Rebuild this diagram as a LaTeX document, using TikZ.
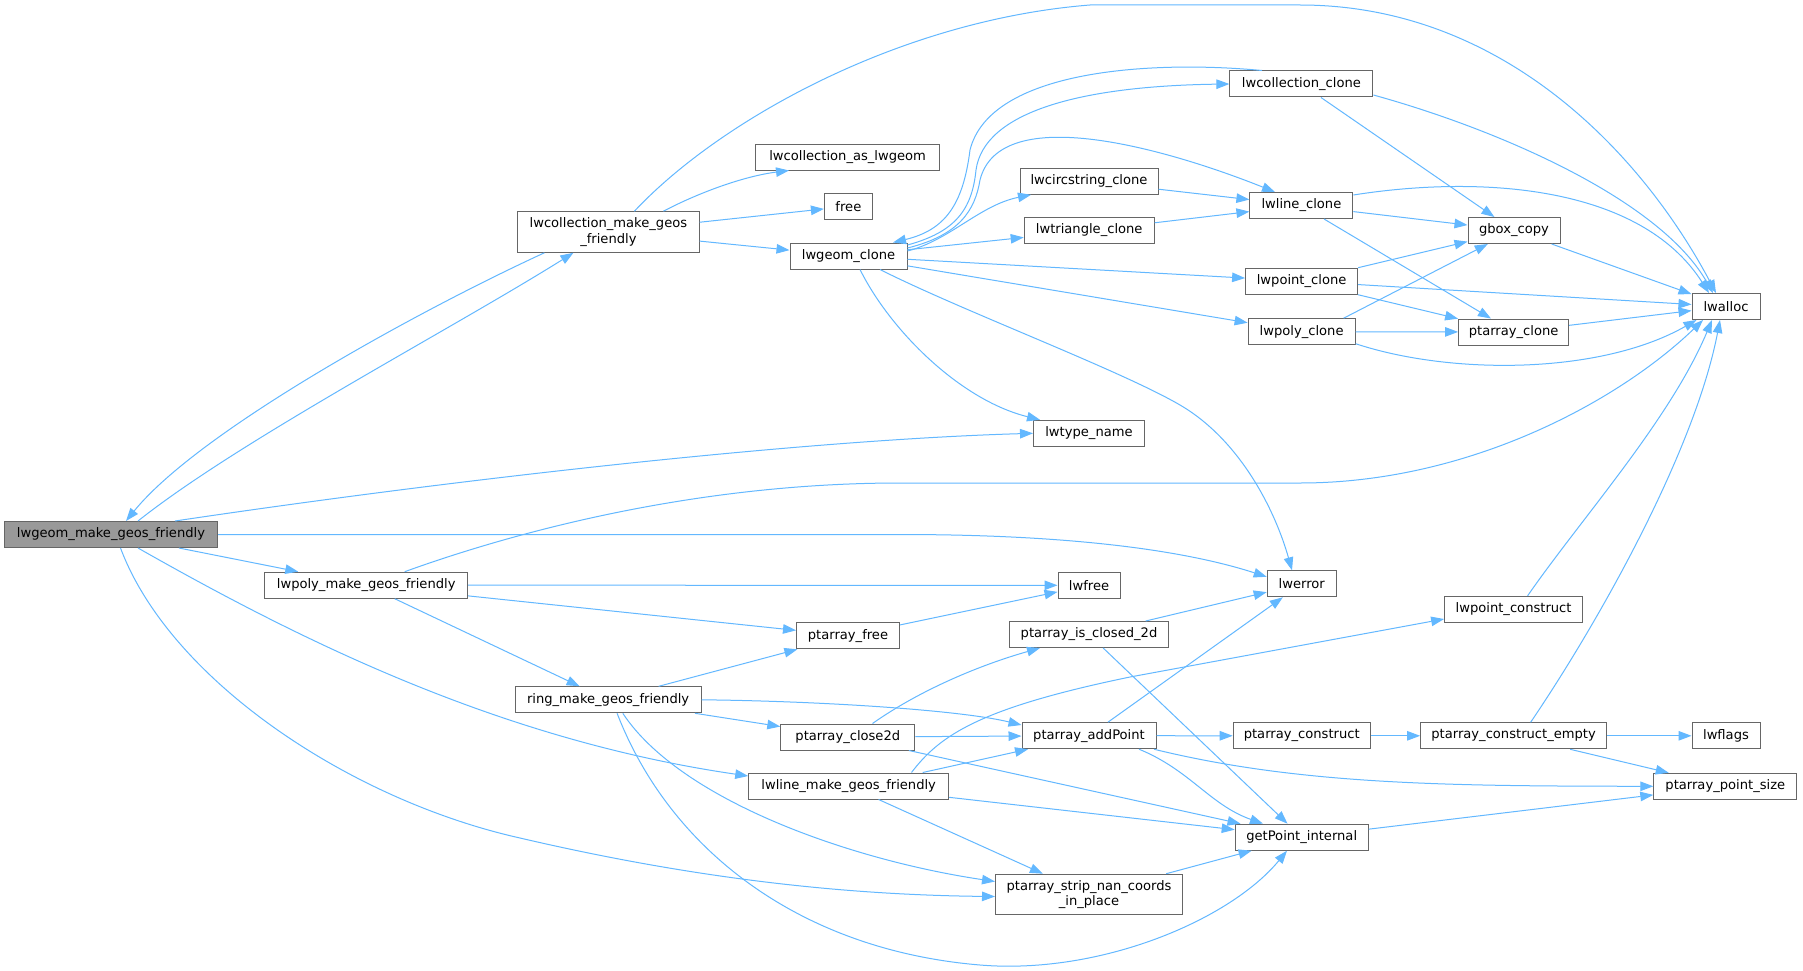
\documentclass[tikz,border=0pt]{standalone}
\usepackage{fontspec}
\setmainfont{DejaVu Sans}
\usetikzlibrary{arrows.meta,calc}
\definecolor{edgeblue}{HTML}{63B8FF}
\definecolor{boxgray}{HTML}{666666}
\definecolor{mainfill}{HTML}{999999}
\begin{document}
\begin{tikzpicture}[x=1pt,y=-1pt,
 box/.style={draw=boxgray, fill=white, line width=1pt, minimum height=26pt, inner sep=0pt, font=\fontsize{13.1}{15.2}\selectfont},
 twoline/.style={box, align=center, minimum height=40.6pt},
 link/.style={draw=edgeblue, line width=1pt, -{Triangle[length=13pt,width=9.5pt]}}]
\fill[white] (0,0) rectangle (1803,971);
\useasboundingbox (0,0) rectangle (1803,971);
% nodes
\node[box, fill=mainfill, minimum width=213pt] (A) at (111,534.5) {lwgeom\_make\_geos\_friendly};
\node[twoline, minimum width=181.4pt] (B) at (608.4,232) {lwcollection\_make\_geos\\\_friendly};
\node[box, minimum width=184pt] (LCAL) at (847.6,157) {lwcollection\_as\_lwgeom};
\node[box, minimum width=48pt] (FREE) at (848.4,206.3) {free};
\node[box, minimum width=117pt] (C) at (848.5,256) {lwgeom\_clone};
\node[box, minimum width=143pt] (LCC) at (1301.4,84) {lwcollection\_clone};
\node[box, minimum width=138pt] (LCS) at (1089,181.3) {lwcircstring\_clone};
\node[box, minimum width=130pt] (LTC) at (1089.2,230.5) {lwtriangle\_clone};
\node[box, minimum width=103pt] (LLC) at (1301.4,205.5) {lwline\_clone};
\node[box, minimum width=92pt] (GBOX) at (1514,230.5) {gbox\_copy};
\node[box, minimum width=112pt] (LPC) at (1301.6,281.2) {lwpoint\_clone};
\node[box, minimum width=68pt] (LWALLOC) at (1726,306.5) {lwalloc};
\node[box, minimum width=107pt] (LPOLYC) at (1301.6,331.7) {lwpoly\_clone};
\node[box, minimum width=110pt] (PCL) at (1513.6,332) {ptarray\_clone};
\node[box, minimum width=111pt] (LTN) at (1089,433.3) {lwtype\_name};
\node[box, minimum width=203pt] (D) at (366.2,585.2) {lwpoly\_make\_geos\_friendly};
\node[box, minimum width=62pt] (LWFREE) at (1089,585.3) {lwfree};
\node[box, minimum width=69pt] (LWERR) at (1301.7,583.8) {lwerror};
\node[box, minimum width=138pt] (LPCON) at (1513.6,609.3) {lwpoint\_construct};
\node[box, minimum width=103pt] (PFREE) at (848,635.8) {ptarray\_free};
\node[box, minimum width=159pt] (PICL) at (1089,634.5) {ptarray\_is\_closed\_2d};
\node[box, minimum width=186pt] (E) at (608.1,699.8) {ring\_make\_geos\_friendly};
\node[box, minimum width=134pt] (PC2) at (847.8,737) {ptarray\_close2d};
\node[box, minimum width=134pt] (PAP) at (1089,735.7) {ptarray\_addPoint};
\node[box, minimum width=137pt] (PCON) at (1301.7,735.8) {ptarray\_construct};
\node[box, minimum width=186pt] (PCE) at (1513.6,735.8) {ptarray\_construct\_empty};
\node[box, minimum width=68pt] (LWFLAGS) at (1726,735.8) {lwflags};
\node[box, minimum width=200pt] (F) at (848.7,786) {lwline\_make\_geos\_friendly};
\node[box, minimum width=143pt] (PPS) at (1725.3,786.3) {ptarray\_point\_size};
\node[box, minimum width=133pt] (GPI) at (1301.7,837.2) {getPoint\_internal};
\node[twoline, minimum width=187pt] (PSN) at (1089,894.5) {ptarray\_strip\_nan\_coords\\\_in\_place};
% straight edges
\draw[link] (B) -- (FREE);
\draw[link] (B) -- (C);
\draw[link] (C) -- (LTC);
\draw[link] (C) -- (LPC);
\draw[link] (C) -- (LPOLYC);
\draw[link] (LCC) -- (GBOX);
\draw[link] (LCS) -- (LLC);
\draw[link] (LTC) -- (LLC);
\draw[link] (LLC) -- (GBOX);
\draw[link] (LLC) -- (PCL);
\draw[link] (LPC) -- (GBOX);
\draw[link] (LPC) -- (LWALLOC);
\draw[link] (LPC) -- (PCL);
\draw[link] ($(LPOLYC.north)+(42,0)$) -- (GBOX);
\draw[link] (LPOLYC) -- (PCL);
\draw[link] (GBOX) -- (LWALLOC);
\draw[link] (PCL) -- (LWALLOC);
\draw[link] (A) -- (D);
\draw[link] (D) -- (LWFREE);
\draw[link] (D) -- (PFREE);
\draw[link] (D) -- (E);
\draw[link] (E) -- (PFREE);
\draw[link] (E) -- (PC2);
\draw[link] (PFREE) -- (LWFREE);
\draw[link] (PC2) -- (PAP);
\draw[link] (PC2) -- (GPI);
\draw[link] (PICL) -- (LWERR);
\draw[link] (PICL) -- (GPI);
\draw[link] (PAP) -- (LWERR);
\draw[link] (PAP) -- (PCON);
\draw[link] (PCON) -- (PCE);
\draw[link] (PCE) -- (LWFLAGS);
\draw[link] (PCE) -- (PPS);
\draw[link] ($(F.north)+(74,0)$) -- (PAP);
\draw[link] (F) -- (GPI);
\draw[link] (F) -- (PSN);
\draw[link] (PSN) -- (GPI);
\draw[link] (GPI) -- (PPS);
% curved edges
\draw[link] ($(B.south)+(-64,0)$) .. controls (420,310) and (200,430) .. ($(A.north)+(15,0)$);
\draw[link] ($(A.north)+(27,0)$) .. controls (240,440) and (450,330) .. ($(B.south)+(-35,0)$);
\draw[link] ($(B.north)+(26,0)$) .. controls (720,120) and (900,20) .. (1090,5) -- (1300,5) .. controls (1500,5) and (1640,150) .. ($(LWALLOC.north)+(-10,0)$);
\draw[link] ($(B.north)+(55,0)$) .. controls (700,192) and (745,176) .. ($(LCAL.south)+(-58.6,0)$);
\draw[link] ($(C.east)+(0,-11)$) .. controls (955,232) and (972,210) .. (976,170) .. controls (984,112) and (1080,86) .. (LCC.west);
\draw[link] ($(LCC.north)+(-39.4,0)$) .. controls (1150,60) and (990,70) .. (970,150) .. controls (963,205) and (945,230) .. ($(C.north)+(44.5,0)$);
\draw[link] ($(C.east)+(0,-8)$) .. controls (960,235) and (975,210) .. (980,180) .. controls (1000,100) and (1170,150) .. ($(LLC.north)+(-26.4,0)$);
\draw[link] ($(C.east)+(0,-5)$) .. controls (950,240) and (980,205) .. ($(LCS.south)+(-58,0)$);
\draw[link] ($(C.south)+(11.5,0)$) .. controls (890,330) and (960,400) .. ($(LTN.north)+(-49,0)$);
\draw[link] ($(C.south)+(31.5,0)$) .. controls (960,310) and (1120,370) .. (1180,405) .. controls (1240,440) and (1275,510) .. ($(LWERR.north)+(-9.7,0)$);
\draw[link] ($(LCC.east)+(0,11)$) .. controls (1500,130) and (1660,200) .. ($(LWALLOC.north)+(-13,0)$);
\draw[link] ($(LLC.east)+(0,-10.5)$) .. controls (1480,175) and (1640,185) .. ($(LWALLOC.north)+(-17,0)$);
\draw[link] ($(LPOLYC.east)+(0,12)$) .. controls (1450,375) and (1600,375) .. ($(LWALLOC.south west)+(5,0)$);
\draw[link] ($(D.north)+(38.5,0)$) .. controls (520,530) and (700,483) .. (900,483) -- (1300,483) .. controls (1470,483) and (1620,400) .. ($(LWALLOC.south)+(-23,0)$);
\draw[link] ($(LPCON.north)+(14,0)$) .. controls (1580,520) and (1670,420) .. ($(LWALLOC.south)+(-14,0)$);
\draw[link] ($(PCE.north)+(17,0)$) .. controls (1600,620) and (1695,450) .. ($(LWALLOC.south)+(-6,0)$);
\draw[link] (A.east) -- (900,534.5) .. controls (1080,534.5) and (1190,552) .. ($(LWERR.west)+(0,-7)$);
\draw[link] ($(A.north)+(64,0)$) .. controls (450,480) and (800,440) .. (LTN.west);
\draw[link] ($(A.south)+(27,0)$) .. controls (300,640) and (500,740) .. ($(F.west)+(0,-10)$);
\draw[link] ($(A.south)+(9.5,0)$) .. controls (170,680) and (350,800) .. (520,838) .. controls (700,880) and (850,895) .. ($(PSN.west)+(0,2)$);
\draw[link] (E.east) .. controls (820,701) and (960,710) .. ($(PAP.west)+(0,-10.7)$);
\draw[link] ($(E.south)+(14.7,0)$) .. controls (680,800) and (850,860) .. ($(PSN.west)+(0,-13)$);
\draw[link] ($(E.south)+(9,0)$) .. controls (670,850) and (800,950) .. (980,965) .. controls (1100,975) and (1230,920) .. ($(GPI.south)+(-14.7,0)$);
\draw[link] ($(PC2.north)+(24.7,0)$) .. controls (920,690) and (980,665) .. ($(PICL.south)+(-49,0)$);
\draw[link] ($(PAP.south)+(50,0)$) .. controls (1190,770) and (1210,805) .. ($(GPI.north)+(-38.7,0)$);
\draw[link] ($(PAP.south east)+(-2.6,0)$) .. controls (1300,785) and (1450,786) .. (PPS.west);
\draw[link] ($(F.north)+(62.8,0)$) .. controls (940,735) and (980,708) .. (1130,677) -- ($(LPCON.west)+(0,9.7)$);
\end{tikzpicture}
\end{document}
